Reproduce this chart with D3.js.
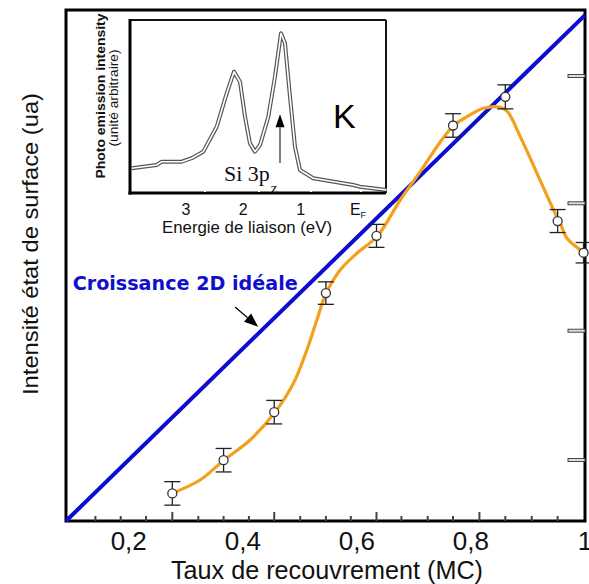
<!DOCTYPE html>
<html><head><meta charset="utf-8">
<script src="https://cdn.jsdelivr.net/npm/d3@7"></script>
<style>html,body{margin:0;padding:0;background:#fff;overflow:hidden}</style>
</head><body><svg id="c" width="589" height="584"></svg>
<script>
// ---------- main chart data ----------
const coverage  = [0.2764, 0.3663, 0.4551, 0.5457, 0.6344, 0.7686, 0.8603, 0.9520, 0.9975];
const intensity = [0.054, 0.119, 0.213, 0.446, 0.558, 0.774, 0.830, 0.587, 0.525];
const errorBars = [0.023, 0.023, 0.023, 0.022, 0.0225, 0.023, 0.0235, 0.0225, 0.02];
const fitCoverage  = [0.2765,0.3251,0.3672,0.4128,0.4567,0.4888,0.5123,0.5298,0.5461,0.5707,0.6000,0.6361,0.6760,0.7111,0.7404,0.7695,0.7930,0.8221,0.8514,0.8642,0.8865,0.9158,0.9449,0.9567,0.9684,0.9988];
const fitIntensity = [0.0542,0.0802,0.1194,0.1585,0.2133,0.2695,0.3346,0.3933,0.4456,0.4912,0.5239,0.5577,0.6282,0.6836,0.7325,0.7736,0.7912,0.8076,0.8096,0.8010,0.7521,0.6804,0.6086,0.5826,0.5532,0.5250];
const idealCoverage  = [0.09, 1.0];
const idealIntensity = [0.0, 0.99];
const xTickValues = [0.2, 0.4, 0.6, 0.8, 1.0];
const xTickLabels = ["0,2", "0,4", "0,6", "0,8", "1"];
const minorTicks = [0.1416,0.1859,0.2303,0.3220,0.3663,0.4107,0.5007,0.5457,0.5894,0.6781,0.7242,0.7686,0.8603,0.9066,0.9520];
const majorTicks = [0.2764,0.4551,0.6344,0.8149];
const rightTicks = [0.1194, 0.3724, 0.6217, 0.8708];
const xTitle = "Taux de recouvrement (MC)";
const yTitle = "Intensité état de surface (ua)";
const idealLabel = "Croissance 2D idéale";
const idealArrow = {from: [0.3865, 0.4188], to: [0.4270, 0.3800]};

// ---------- inset data (photo-emission spectrum) ----------
const energy = [3.947,3.511,3.424,3.075,2.901,2.698,2.464,2.290,2.163,2.058,1.971,1.884,1.797,1.709,1.564,1.448,1.343,1.273,1.186,1.099,1.012,0.780,0.082,-0.035,-0.500];
const photoIntensity = [14.3,16.2,18.1,18.1,20.1,23.9,38.3,57.6,70.1,64.3,44.1,28.7,23.9,27.7,44.1,67.2,92.3,86.5,55.7,26.8,13.3,8.5,4.6,3.6,1.7];
const energyTicks = [3, 2, 1, 0];
const energyTickLabels = ["3", "2", "1", "E"];
const energyNotches = [2.669, 1.727, 0.820, -0.052];
const insetEnergyDomain = [3.977, -0.489];
const insetIntensityDomain = [0, 100];
const siArrow = {energy: 1.36, from: 17.3, to: 45.5};

// ---------- drawing ----------
const svg = d3.select("#c");
svg.append("rect").attr("width", 589).attr("height", 584).attr("fill", "#fff");

const x = d3.scaleLinear().domain([0.09, 1.0]).range([66, 585]);
const y = d3.scaleLinear().domain([0, 1]).range([521, 10]);

// frame
svg.append("rect").attr("x", x(0.09)).attr("y", y(1)).attr("width", x(1) - x(0.09)).attr("height", y(0) - y(1))
  .attr("fill", "none").attr("stroke", "#000").attr("stroke-width", 3);

// bottom ticks
svg.selectAll(".mnt").data(minorTicks).join("line")
  .attr("x1", d => x(d)).attr("x2", d => x(d)).attr("y1", y(0)).attr("y2", y(0) - 5)
  .attr("stroke", "#444").attr("stroke-width", 2);
svg.selectAll(".mjt").data(majorTicks).join("line")
  .attr("x1", d => x(d)).attr("x2", d => x(d)).attr("y1", y(0)).attr("y2", y(0) - 9)
  .attr("stroke", "#444").attr("stroke-width", 2);
// right ticks
svg.selectAll(".rt").data(rightTicks).join("rect")
  .attr("x", x(1) - 17).attr("y", d => y(d) - 1.5).attr("width", 17).attr("height", 3)
  .attr("fill", "#ddd").attr("stroke", "#333").attr("stroke-width", 0.9);

// tick labels
svg.selectAll(".xl").data(xTickValues).join("text")
  .attr("x", d => x(d)).attr("y", 550).attr("text-anchor", "middle")
  .attr("font-family", "Liberation Sans, Arial, sans-serif").attr("font-size", 26).attr("fill", "#111")
  .text((d, i) => xTickLabels[i]);

// axis titles
svg.append("text").attr("x", 327).attr("y", 579).attr("text-anchor", "middle")
  .attr("font-family", "Liberation Sans, Arial, sans-serif").attr("font-size", 25).attr("fill", "#111")
  .attr("textLength", 312).attr("lengthAdjust", "spacingAndGlyphs").text(xTitle);
svg.append("text").attr("transform", "translate(38,244) rotate(-90)").attr("text-anchor", "middle")
  .attr("font-family", "Liberation Sans, Arial, sans-serif").attr("font-size", 22).attr("fill", "#111")
  .attr("textLength", 302).attr("lengthAdjust", "spacingAndGlyphs").text(yTitle);

// ideal 2D growth line
const line = d3.line().x(d => x(d[0])).y(d => y(d[1]));
svg.append("path").datum(idealCoverage.map((c, i) => [c, idealIntensity[i]]))
  .attr("d", line).attr("fill", "none").attr("stroke", "#0c0cd0").attr("stroke-width", 4);

// fitted curve
svg.append("path").datum(fitCoverage.map((c, i) => [c, fitIntensity[i]]))
  .attr("d", line.curve(d3.curveCatmullRom.alpha(0.5))).attr("fill", "none")
  .attr("stroke", "#f3a11c").attr("stroke-width", 3.2).attr("stroke-linejoin", "round");

// error bars
const pts = coverage.map((c, i) => ({c, v: intensity[i], e: errorBars[i]}));
const eb = svg.append("g").attr("stroke", "#222").attr("stroke-width", 1.3);
eb.selectAll(".v").data(pts).join("line")
  .attr("x1", d => x(d.c)).attr("x2", d => x(d.c)).attr("y1", d => y(d.v + d.e)).attr("y2", d => y(d.v - d.e));
eb.selectAll(".t").data(pts).join("line")
  .attr("x1", d => x(d.c) - 8).attr("x2", d => x(d.c) + 8).attr("y1", d => y(d.v + d.e)).attr("y2", d => y(d.v + d.e));
eb.selectAll(".b").data(pts).join("line")
  .attr("x1", d => x(d.c) - 8).attr("x2", d => x(d.c) + 8).attr("y1", d => y(d.v - d.e)).attr("y2", d => y(d.v - d.e));
svg.selectAll(".pt").data(pts).join("circle")
  .attr("cx", d => x(d.c)).attr("cy", d => y(d.v)).attr("r", 4.5)
  .attr("fill", "#fff").attr("stroke", "#333").attr("stroke-width", 1.3);

// label + arrow
svg.append("text").attr("x", x(0.1017)).attr("y", y(0.452))
  .attr("font-family", "DejaVu Sans, sans-serif").attr("font-weight", "bold").attr("font-size", 19.5)
  .attr("fill", "#1010cc").attr("textLength", 225).attr("lengthAdjust", "spacingAndGlyphs").text(idealLabel);
function arrow(g, x1, y1, x2, y2, len, hw, sw) {
  const a = Math.atan2(y2 - y1, x2 - x1);
  const bx = x2 - len * Math.cos(a), by = y2 - len * Math.sin(a);
  g.append("line").attr("x1", x1).attr("y1", y1).attr("x2", bx).attr("y2", by).attr("stroke", "#000").attr("stroke-width", sw);
  const px = -Math.sin(a) * hw, py = Math.cos(a) * hw;
  g.append("path").attr("d", `M${x2},${y2}L${bx + px},${by + py}L${bx - px},${by - py}Z`).attr("fill", "#000");
}
arrow(svg, x(idealArrow.from[0]), y(idealArrow.from[1]), x(idealArrow.to[0]), y(idealArrow.to[1]), 14, 5.5, 1.2);

// ---------- inset ----------
const xi = d3.scaleLinear().domain(insetEnergyDomain).range([130, 386]);
const yi = d3.scaleLinear().domain(insetIntensityDomain).range([193, 20]);
const ins = svg.append("g");
ins.append("rect").attr("x", xi.range()[0]).attr("y", yi.range()[1]).attr("width", xi.range()[1] - xi.range()[0])
  .attr("height", yi.range()[0] - yi.range()[1]).attr("fill", "#fff");
ins.append("line").attr("x1", xi.range()[0]).attr("x2", xi.range()[1]).attr("y1", yi.range()[1]).attr("y2", yi.range()[1]).attr("stroke", "#111").attr("stroke-width", 2);
ins.append("line").attr("x1", xi.range()[1]).attr("x2", xi.range()[1]).attr("y1", yi.range()[1]).attr("y2", yi.range()[0]).attr("stroke", "#111").attr("stroke-width", 2);

const sLine = d3.line().x(d => xi(d[0])).y(d => yi(d[1]));
const spec = energy.map((e, i) => [e, photoIntensity[i]]);
ins.append("path").datum(spec).attr("d", sLine).attr("fill", "none").attr("stroke", "#555").attr("stroke-width", 4).attr("stroke-linejoin", "round");
ins.append("path").datum(spec).attr("d", sLine).attr("fill", "none").attr("stroke", "#fff").attr("stroke-width", 1.6).attr("stroke-linejoin", "round");

ins.append("line").attr("x1", xi.range()[0]).attr("x2", xi.range()[0]).attr("y1", yi.range()[1] - 1).attr("y2", yi.range()[0] + 1.5).attr("stroke", "#000").attr("stroke-width", 3);
ins.append("line").attr("x1", xi.range()[0] - 1.5).attr("x2", xi.range()[1]).attr("y1", yi.range()[0]).attr("y2", yi.range()[0]).attr("stroke", "#000").attr("stroke-width", 3);
ins.selectAll(".nt").data(energyNotches).join("line")
  .attr("x1", d => xi(d)).attr("x2", d => xi(d)).attr("y1", yi(0) - 1).attr("y2", yi(0) - 4)
  .attr("stroke", "#fff").attr("stroke-width", 2);

const tl = ins.selectAll(".et").data(energyTicks).join("text")
  .attr("x", d => xi(d)).attr("y", 215).attr("text-anchor", "middle")
  .attr("font-family", "Liberation Sans, Arial, sans-serif").attr("font-size", 16).attr("fill", "#111")
  .text((d, i) => energyTickLabels[i]);
tl.filter(d => d === 0).append("tspan").attr("font-size", 9).attr("dy", 3).text("F");

ins.append("text").attr("x", 247).attr("y", 233).attr("text-anchor", "middle")
  .attr("font-family", "Liberation Sans, Arial, sans-serif").attr("font-size", 17).attr("fill", "#111")
  .attr("textLength", 170).attr("lengthAdjust", "spacingAndGlyphs").text("Energie de liaison (eV)");
ins.append("text").attr("transform", "translate(104.5,96) rotate(-90)").attr("text-anchor", "middle")
  .attr("font-family", "Liberation Sans, Arial, sans-serif").attr("font-weight", "bold").attr("font-size", 13).attr("fill", "#111")
  .attr("textLength", 165).attr("lengthAdjust", "spacingAndGlyphs").text("Photo emission intensity");
ins.append("text").attr("transform", "translate(118,98) rotate(-90)").attr("text-anchor", "middle")
  .attr("font-family", "Liberation Sans, Arial, sans-serif").attr("font-size", 13).attr("fill", "#111")
  .attr("textLength", 97).attr("lengthAdjust", "spacingAndGlyphs").text("(unité arbitraire)");

ins.append("text").attr("x", 333).attr("y", 128)
  .attr("font-family", "Liberation Sans, Arial, sans-serif").attr("font-size", 34).attr("fill", "#000").text("K");

const si = ins.append("text").attr("x", 224).attr("y", 181)
  .attr("font-family", "Liberation Serif, Times New Roman, serif").attr("font-size", 22).attr("fill", "#111");
si.append("tspan").text("Si 3p");
si.append("tspan").attr("font-size", 15).attr("dy", 12).attr("dx", 1).text("z");

arrow(ins, xi(siArrow.energy), yi(siArrow.from), xi(siArrow.energy), yi(siArrow.to), 13, 4.5, 1);
</script></body></html>
